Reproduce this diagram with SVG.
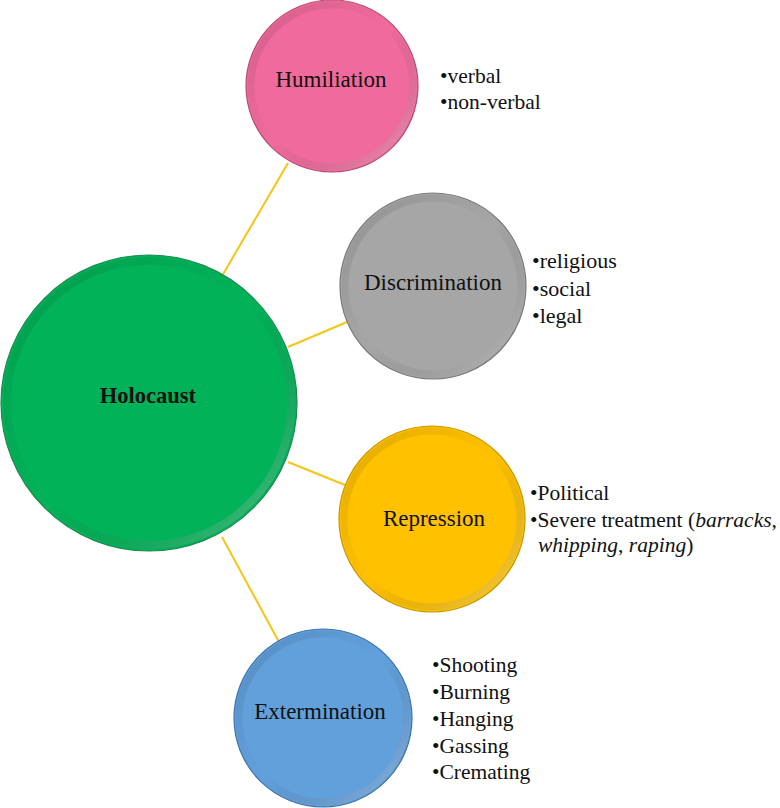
<svg xmlns="http://www.w3.org/2000/svg" width="780" height="808" viewBox="0 0 780 808">
<defs>
<style>
.conn{stroke:#F5C518;stroke-width:2;fill:none;}
.edge{stroke-width:1.2;}
</style>
<linearGradient id="shade" x1="0" y1="0" x2="1" y2="1">
<stop offset="0" stop-color="#000" stop-opacity="0.12"/>
<stop offset="0.5" stop-color="#000" stop-opacity="0"/>
<stop offset="1" stop-color="#fff" stop-opacity="0.35"/>
</linearGradient>
</defs>
<rect width="780" height="808" fill="#fff"/>
<g id="connectors">
<line class="conn" x1="222" y1="276" x2="288" y2="163"/>
<line class="conn" x1="288" y1="347" x2="347" y2="322"/>
<line class="conn" x1="288" y1="462" x2="345" y2="485"/>
<line class="conn" x1="222" y1="537" x2="279" y2="642"/>
</g>
<g id="holocaust">
<circle class="edge" cx="149" cy="403" r="148" fill="#02B259" stroke="#1E8A50"/>
<circle cx="149" cy="403" r="142" fill="none" stroke="url(#shade)" stroke-width="8"/>
<circle cx="149" cy="403" r="138" fill="#02B259"/>
<text x="148" y="403" font-family="Liberation Serif" font-size="22.5" font-weight="bold" text-anchor="middle" fill="#111">Holocaust</text>
</g>
<g id="humiliation">
<circle class="edge" cx="332" cy="86" r="86" fill="#F06B9C" stroke="#B84A73"/>
<circle cx="332" cy="86" r="81" fill="none" stroke="url(#shade)" stroke-width="7"/>
<circle cx="332" cy="86" r="77" fill="#F06B9C"/>
<text x="331" y="87" font-family="Liberation Serif" font-size="23" text-anchor="middle" fill="#111">Humiliation</text>
</g>
<g id="humiliation-list" font-family="Liberation Serif" font-size="21.5" fill="#111">
<text x="440" y="83" font-family="Liberation Serif">•verbal</text>
<text x="440" y="109" font-family="Liberation Serif">•non-verbal</text>
</g>
<g id="discrimination">
<circle class="edge" cx="433" cy="286" r="93" fill="#A6A6A6" stroke="#7a7a7a"/>
<circle cx="433" cy="286" r="88" fill="none" stroke="url(#shade)" stroke-width="7"/>
<circle cx="433" cy="286" r="84" fill="#A6A6A6"/>
<text x="433" y="290" font-family="Liberation Serif" font-size="23" text-anchor="middle" fill="#111">Discrimination</text>
</g>
<g id="discrimination-list" font-family="Liberation Serif" font-size="22" fill="#111">
<text x="532" y="268" font-family="Liberation Serif">•religious</text>
<text x="532" y="296" font-family="Liberation Serif">•social</text>
<text x="532" y="323" font-family="Liberation Serif">•legal</text>
</g>
<g id="repression">
<circle class="edge" cx="432" cy="519" r="93" fill="#FFC100" stroke="#C99600"/>
<circle cx="432" cy="519" r="88" fill="none" stroke="url(#shade)" stroke-width="7"/>
<circle cx="432" cy="519" r="84" fill="#FFC100"/>
<text x="434" y="526" font-family="Liberation Serif" font-size="23" text-anchor="middle" fill="#111">Repression</text>
</g>
<g id="repression-list" font-family="Liberation Serif" font-size="21.5" fill="#111">
<text x="530" y="500" font-family="Liberation Serif">•Political</text>
<text x="530" y="527" font-family="Liberation Serif">•Severe treatment (<tspan font-style="italic">barracks</tspan>,</text>
<text x="538" y="552" font-family="Liberation Serif"><tspan font-style="italic">whipping</tspan>, <tspan font-style="italic">raping</tspan>)</text>
</g>
<g id="extermination">
<circle class="edge" cx="323" cy="718" r="89" fill="#62A0DC" stroke="#3F73A8"/>
<circle cx="323" cy="718" r="84" fill="none" stroke="url(#shade)" stroke-width="7"/>
<circle cx="323" cy="718" r="80" fill="#62A0DC"/>
<text x="320" y="719" font-family="Liberation Serif" font-size="23" text-anchor="middle" fill="#111">Extermination</text>
</g>
<g id="extermination-list" font-family="Liberation Serif" font-size="21.5" fill="#111">
<text x="432" y="672" font-family="Liberation Serif">•Shooting</text>
<text x="432" y="699" font-family="Liberation Serif">•Burning</text>
<text x="432" y="726" font-family="Liberation Serif">•Hanging</text>
<text x="432" y="753" font-family="Liberation Serif">•Gassing</text>
<text x="432" y="779" font-family="Liberation Serif">•Cremating</text>
</g>
</svg>
